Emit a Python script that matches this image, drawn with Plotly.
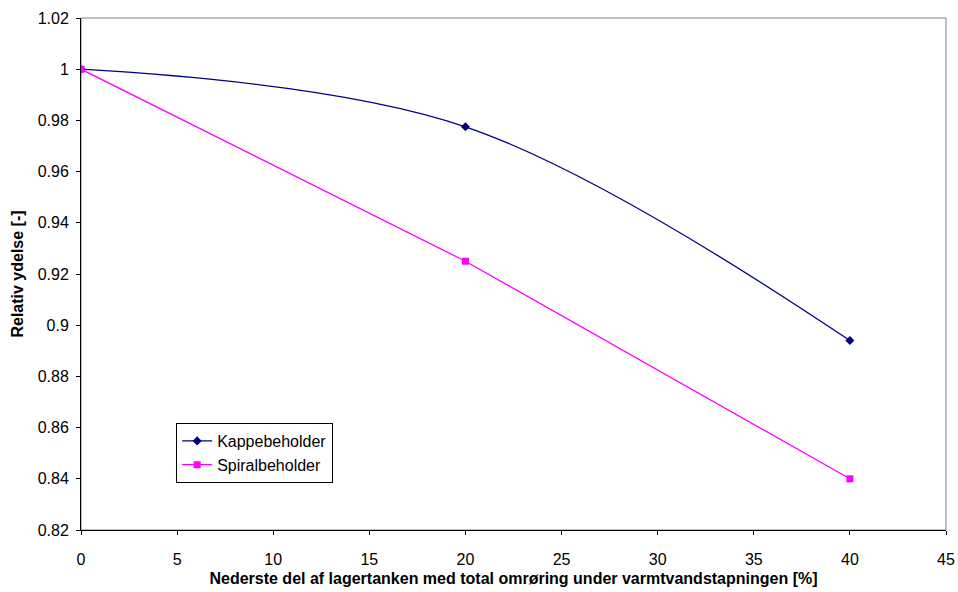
import plotly.graph_objects as go

x_vals = [0, 20, 40]
kappe = [1.0, 0.9775, 0.894]
spiral = [1.0, 0.925, 0.84]
x_ticks = [0, 5, 10, 15, 20, 25, 30, 35, 40, 45]
y_ticks = [0.82, 0.84, 0.86, 0.88, 0.9, 0.92, 0.94, 0.96, 0.98, 1.0, 1.02]
y_tick_text = ["0.82", "0.84", "0.86", "0.88", "0.9", "0.92", "0.94", "0.96", "0.98", "1", "1.02"]

FONT = "Liberation Sans, Arial, sans-serif"
FS = 16

fig = go.Figure()
fig.add_trace(go.Scatter(
    x=x_vals, y=kappe, name="Kappebeholder", mode="lines+markers",
    line=dict(color="#000080", width=1.3, shape="spline", smoothing=1.0),
    marker=dict(symbol="diamond", size=7, color="#000080"),
))
fig.add_trace(go.Scatter(
    x=x_vals, y=spiral, name="Spiralbeholder", mode="lines+markers",
    line=dict(color="#FF00FF", width=1.3),
    marker=dict(symbol="square", size=7, color="#FF00FF"),
))

fig.add_shape(type="rect", xref="paper", yref="paper", x0=0, y0=0, x1=1, y1=1,
              line=dict(color="#808080", width=1), layer="below")

fig.update_layout(
    width=958, height=592,
    margin=dict(l=81, r=12, t=18, b=62, autoexpand=False),
    paper_bgcolor="white", plot_bgcolor="white",
    font=dict(family=FONT, size=FS, color="black"),
    showlegend=True,
    legend=dict(x=0.11, y=0.209, xanchor="left", yanchor="top",
                bgcolor="white", bordercolor="black", borderwidth=1,
                font=dict(family=FONT, size=FS, color="black"),
                tracegroupgap=0, itemwidth=30),
    xaxis=dict(range=[0, 45], tickmode="array", tickvals=x_ticks, automargin=False,
               showgrid=False, zeroline=False, showline=True, linecolor="black", linewidth=1,
               ticks="outside", ticklen=4, tickcolor="black", ticklabelstandoff=11,
               tickfont=dict(family=FONT, size=FS, color="black"),
               title=dict(text="<b>Nederste del af lagertanken med total omrøring under varmtvandstapningen [%]</b>",
                          font=dict(family=FONT, size=FS, color="black"), standoff=5)),
    yaxis=dict(range=[0.82, 1.02], tickmode="array", tickvals=y_ticks, ticktext=y_tick_text, automargin=False,
               showgrid=False, zeroline=False, showline=True, linecolor="black", linewidth=1,
               ticks="outside", ticklen=4, tickcolor="black", ticklabelstandoff=4,
               tickfont=dict(family=FONT, size=FS, color="black"),
               title=dict(text="<b>Relativ ydelse [-]</b>",
                          font=dict(family=FONT, size=FS, color="black"), standoff=10)),
)

fig.write_html("out.html", config={"displayModeBar": False},
               post_script="document.body.style.margin='0';document.body.style.overflow='hidden';")
